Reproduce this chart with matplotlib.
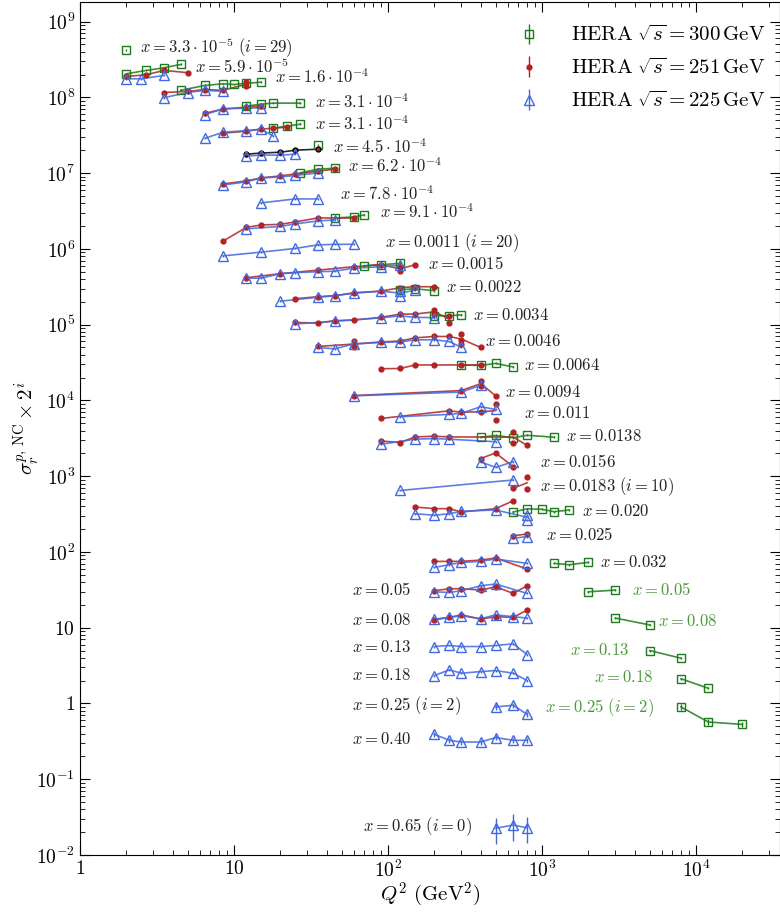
import math
import matplotlib
matplotlib.use('Agg')
import matplotlib.pyplot as plt
import pandas as pd
from matplotlib.ticker import FuncFormatter, LogLocator, NullFormatter

plt.rcParams['mathtext.fontset'] = 'cm'
plt.rcParams['font.family'] = 'serif'
plt.rcParams['font.serif'] = ['DejaVu Serif']

# reduced cross section x 2^i, keyed by bin index i
# sqrt(s) = 300 GeV
Q2_300 = {29: [2], 28: [2, 2.7, 3.5, 4.5], 27: [4.5, 6.5, 8.5, 10, 12, 15],
          26: [12, 15, 18, 27], 25: [18, 22, 27], 24: [35], 23: [27, 35, 45],
          21: [45, 60, 70], 19: [70, 90, 120], 18: [120, 150, 200],
          17: [200, 250, 300], 15: [300, 400, 500, 650],
          12: [400, 500, 650, 800, 1200], 9: [650, 800, 1000, 1200, 1500],
          7: [1200, 1500, 2000], 6: [2000, 3000], 5: [3000, 5000],
          4: [5000, 8000], 3: [8000, 12000], 2: [8000, 12000, 20000]}
SIG_300 = {29: [4.2e8], 28: [2.05e8, 2.27e8, 2.46e8, 2.72e8],
           27: [1.24e8, 1.44e8, 1.51e8, 1.48e8, 1.53e8, 1.59e8],
           26: [7.66e7, 8.14e7, 8.4e7, 8.4e7], 25: [3.92e7, 4.17e7, 4.43e7],
           24: [2.34e7], 23: [1.01e7, 1.13e7, 1.16e7], 21: [2.56e6, 2.64e6, 2.81e6],
           19: [6.0e5, 6.19e5, 6.44e5], 18: [2.89e5, 2.98e5, 2.81e5],
           17: [1.31e5, 1.31e5, 1.35e5], 15: [2.94e4, 2.9e4, 3.08e4, 2.77e4],
           12: [3.27e3, 3.45e3, 3.22e3, 3.47e3, 3.27e3], 9: [337, 371, 366, 340, 358],
           7: [70.7, 67.9, 72.9], 6: [29.8, 31.4], 5: [13.4, 10.9], 4: [5.0, 3.96],
           3: [2.12, 1.59], 2: [0.90, 0.57, 0.53]}

# sqrt(s) = 251 GeV
Q2_251 = {28: [2, 2.7, 3.5, 5], 27: [3.5, 5, 6.5, 8.5, 12, 12], 26: [6.5, 8.5, 12, 15],
          25: [8.5, 12, 15, 18, 22], 24: [12, 15, 20, 25, 35],
          23: [8.5, 12, 15, 20, 25, 35, 45], 21: [8.5, 12, 15, 20, 25, 35, 60],
          19: [12, 20, 35, 60, 90, 120, 120, 150], 18: [25, 35, 45, 60, 90, 120, 150, 200],
          17: [25, 35, 45, 60, 90, 120, 150, 200, 200, 250, 250],
          16: [35, 60, 60, 90, 120, 150, 200, 250, 300, 300, 300, 400],
          15: [90, 120, 150, 200, 300, 400], 14: [60, 300, 400, 400, 500],
          13: [90, 250, 300, 400, 500, 500], 12: [90, 120, 150, 200, 250, 650, 650, 800],
          11: [400, 500, 650], 10: [650, 800, 800], 9: [150, 200, 250, 300, 500, 650],
          8: [650, 800], 7: [200, 250, 300, 400, 500, 800],
          6: [200, 250, 300, 400, 500, 650, 800], 5: [200, 250, 300, 400, 500, 650, 800]}
SIG_251 = {28: [1.89e8, 1.99e8, 2.27e8, 2.12e8],
           27: [1.16e8, 1.20e8, 1.27e8, 1.24e8, 1.58e8, 1.40e8],
           26: [6.19e7, 7.0e7, 7.43e7, 7.66e7], 25: [3.37e7, 3.58e7, 3.81e7, 3.92e7, 4.05e7],
           24: [1.78e7, 1.84e7, 1.89e7, 2.01e7, 2.07e7],
           23: [7.2e6, 7.9e6, 8.65e6, 9.2e6, 9.75e6, 1.06e7, 1.13e7],
           21: [1.27e6, 1.92e6, 2.07e6, 2.11e6, 2.27e6, 2.56e6, 2.56e6],
           19: [4.17e5, 4.71e5, 5.24e5, 5.83e5, 6.19e5, 5.74e5, 5.16e5, 6.19e5],
           18: [2.2e5, 2.34e5, 2.41e5, 2.64e5, 2.77e5, 3.08e5, 3.17e5, 3.17e5],
           17: [1.07e5, 1.05e5, 1.13e5, 1.15e5, 1.25e5, 1.38e5, 1.38e5, 1.58e5, 1.38e5, 1.31e5, 1.06e5],
           16: [5.16e4, 5.0e4, 6.1e4, 5.92e4, 6.1e4, 6.7e4, 6.99e4, 6.99e4, 7.43e4, 6.31e4, 5.6e4, 5.0e4],
           15: [2.62e4, 2.64e4, 2.94e4, 2.94e4, 2.94e4, 2.94e4],
           14: [1.16e4, 1.35e4, 1.81e4, 1.53e4, 1.15e4],
           13: [5.78e3, 7.3e3, 6.99e3, 7.1e3, 9.1e3, 5.6e3],
           12: [2.92e3, 2.78e3, 3.3e3, 3.37e3, 3.3e3, 3.84e3, 2.72e3, 2.56e3],
           11: [1.71e3, 2.03e3, 1.33e3], 10: [693, 967, 669],
           9: [392, 373, 373, 337, 373, 474], 8: [163, 173],
           7: [75.1, 75.1, 75.1, 78.2, 83.3, 59.5],
           6: [30.8, 32.7, 32.7, 31.4, 34.7, 28.4, 35.8],
           5: [12.7, 13.7, 14.8, 13.0, 14.0, 13.7, 17.1]}

# sqrt(s) = 225 GeV
Q2_225 = {28: [2, 2.5, 3.5], 27: [3.5, 5, 6.5, 8.5], 26: [6.5, 8.5, 12, 15],
          25: [6.5, 8.5, 12, 15, 18], 24: [12, 15, 20, 25], 23: [8.5, 12, 15, 20, 25, 35],
          22: [15, 25, 35], 21: [12, 20, 25, 35, 45], 20: [8.5, 15, 25, 35, 45, 60],
          19: [12, 15, 20, 25, 35, 45, 60, 90, 120], 18: [20, 35, 45, 60, 90, 120, 120, 150],
          17: [25, 45, 90, 120, 150, 200], 16: [35, 45, 60, 90, 120, 150, 200, 250, 300],
          14: [60, 300, 400], 13: [120, 250, 300, 400, 500], 12: [90, 150, 200, 250, 500],
          11: [400, 500, 650], 10: [120, 650], 9: [150, 200, 250, 300, 500, 800, 800],
          8: [650, 800], 7: [200, 250, 300, 400, 500, 800], 6: [200, 250, 300, 400, 500, 800],
          5: [200, 250, 300, 400, 500, 650, 800], 4: [200, 250, 300, 400, 500, 650, 800],
          3: [200, 250, 300, 400, 500, 650, 800], 2: [500, 650, 800],
          1: [200, 250, 300, 400, 500, 650, 800], 0: [500, 650, 800]}
SIG_225 = {28: [1.76e8, 1.76e8, 1.95e8], 27: [0.99e8, 1.16e8, 1.24e8, 1.20e8],
           26: [5.92e7, 7.1e7, 7.2e7, 7.3e7], 25: [2.89e7, 3.47e7, 3.64e7, 3.81e7, 3.08e7],
           24: [1.68e7, 1.73e7, 1.73e7, 1.78e7],
           23: [6.99e6, 7.66e6, 8.65e6, 8.92e6, 9.33e6, 1.006e7],
           22: [4.05e6, 4.57e6, 4.57e6], 21: [1.84e6, 1.98e6, 2.14e6, 2.34e6, 2.41e6],
           20: [8.1e5, 9.06e5, 1.015e6, 1.13e6, 1.15e6, 1.15e6],
           19: [4.11e5, 4.11e5, 4.71e5, 4.86e5, 5.0e5, 5.08e5, 5.56e5, 5.83e5, 6.1e5],
           18: [2.04e5, 2.3e5, 2.41e5, 2.6e5, 2.77e5, 2.81e5, 2.41e5, 2.85e5],
           17: [1.02e5, 1.11e5, 1.23e5, 1.31e5, 1.25e5, 1.24e5],
           16: [5.0e4, 4.81e4, 5.56e4, 5.83e4, 5.92e4, 6.31e4, 6.31e4, 6.0e4, 5.0e4],
           14: [1.15e4, 1.29e4, 1.58e4], 13: [6.1e3, 6.54e3, 6.78e3, 8.27e3, 7.6e3],
           12: [2.64e3, 3.08e3, 3.14e3, 3.08e3, 2.85e3], 11: [1.54e3, 1.31e3, 1.55e3],
           10: [648, 892], 9: [320, 305, 320, 345, 358, 308, 267], 8: [151, 160],
           7: [62.5, 67.9, 72.9, 75.1, 80.8, 70.7], 6: [29.8, 29.2, 30.8, 35.8, 37.8, 28.4],
           5: [13.0, 13.7, 14.4, 13.1, 14.8, 14.0, 13.4],
           4: [5.65, 5.83, 5.65, 5.65, 5.83, 6.13, 4.43],
           3: [2.34, 2.78, 2.51, 2.64, 2.72, 2.51, 2.01], 2: [0.90, 0.948, 0.72],
           1: [0.392, 0.327, 0.31, 0.31, 0.355, 0.327, 0.327], 0: [0.0225, 0.0249, 0.0229]}

# relative uncertainties (default is small)
REL_ERR = {0: 0.38, 1: 0.08, 2: 0.08}

# bin labels: text, Q2, sigma, colour
LBL_TEXT = [r'3.3\cdot10^{-5}\ (i=29)', r'5.9\cdot10^{-5}', r'1.6\cdot10^{-4}',
            r'3.1\cdot10^{-4}', r'3.1\cdot10^{-4}', r'4.5\cdot10^{-4}', r'6.2\cdot10^{-4}',
            r'7.8\cdot10^{-4}', r'9.1\cdot10^{-4}', r'0.0011\ (i=20)', '0.0015', '0.0022',
            '0.0034', '0.0046', '0.0064', '0.0094', '0.011', '0.0138', '0.0156',
            r'0.0183\ (i=10)', '0.020', '0.025', '0.032',
            '0.05', '0.08', '0.13', '0.18', r'0.25\ (i=2)', '0.40', r'0.65\ (i=0)',
            '0.05', '0.08', '0.13', '0.18', r'0.25\ (i=2)']
LBL_Q2 = [2.45, 5.58, 18.5, 33.6, 33.6, 43.9, 55.0, 48.8, 88.7, 95.6, 182, 238, 356, 426,
          764, 575, 764, 1432, 971, 971, 1820, 1062, 2380,
          58.4, 58.4, 58.4, 58.4, 58.4, 58.4, 68.8,
          3840, 5665, 1520, 2176, 1046]
LBL_SIG = [4.54e8, 2.47e8, 1.82e8, 8.53e7, 4.38e7, 2.18e7, 1.22e7, 5.22e6, 3.02e6, 1.21e6,
           6.22e5, 3.10e5, 1.32e5, 6.0e4, 2.90e4, 1.28e4, 6.74e3, 3.35e3, 1.52e3, 733,
           344, 166, 73.0,
           31.1, 12.5, 5.51, 2.36, 0.946, 0.337, 0.024,
           31.1, 12.2, 5.04, 2.22, 0.891]
LBL_GREEN = [False] * 30 + [True] * 5

C300 = '#1c7a1c'
C251 = '#b22222'
C225 = '#4169e1'

fig = plt.figure(figsize=(7.8, 9.13), dpi=100)
ax = fig.add_axes([0.1026, 0.0635, 0.8971, 0.934])


def draw_set(q2d, sigd, color, marker, ms, mfc, label, black_bins=()):
    first = True
    for i in q2d:
        c = 'k' if i in black_bins else color
        df = pd.DataFrame({'q2': q2d[i], 'sig': sigd[i]})
        err = df['sig'] * REL_ERR.get(i, 0.03)
        ax.errorbar(df['q2'], df['sig'], yerr=err, fmt=marker, ms=ms, mfc=mfc,
                    mec=c, ecolor=c, mew=1.0, elinewidth=1.0, color=c, zorder=3,
                    label=label if first else None)
        first = False
        line = df.groupby('q2')['sig'].mean()
        if len(line) > 1:
            ax.plot(line.index, line.values, '-', color=c, lw=1.2, alpha=0.85, zorder=2)


draw_set(Q2_300, SIG_300, C300, 's', 6, 'none', r'$\mathrm{HERA}\ \sqrt{s} = 300\,\mathrm{GeV}$')
draw_set(Q2_251, SIG_251, C251, 'o', 3.5, C251, r'$\mathrm{HERA}\ \sqrt{s} = 251\,\mathrm{GeV}$',
         black_bins=(24,))
draw_set(Q2_225, SIG_225, C225, '^', 7, 'none', r'$\mathrm{HERA}\ \sqrt{s} = 225\,\mathrm{GeV}$')

for txt, q, s, g in zip(LBL_TEXT, LBL_Q2, LBL_SIG, LBL_GREEN):
    ax.text(q, s, r'$x = ' + txt + '$', fontsize=12, ha='left', va='center',
            color='#4a9a3a' if g else '#222222')

ax.set_xscale('log')
ax.set_yscale('log')
ax.set_xlim(1, 3.5e4)
ax.set_ylim(1e-2, 1.8e9)


def pow_fmt(v, pos):
    e = int(round(math.log10(v)))
    if e == 0:
        return r'$1$'
    if e == 1:
        return r'$10$'
    return r'$10^{%d}$' % e


ax.xaxis.set_major_formatter(FuncFormatter(pow_fmt))
ax.yaxis.set_major_formatter(FuncFormatter(pow_fmt))
ax.yaxis.set_major_locator(LogLocator(base=10, numticks=20))
ax.yaxis.set_minor_locator(LogLocator(base=10, subs=range(2, 10), numticks=20))
ax.yaxis.set_minor_formatter(NullFormatter())
ax.xaxis.set_minor_formatter(NullFormatter())
ax.tick_params(which='both', direction='in', top=True, right=True, labelsize=14)
ax.tick_params(which='major', length=7)
ax.tick_params(which='minor', length=3.5)

ax.set_xlabel(r'$Q^2\ (\mathrm{GeV}^2)$', fontsize=15, labelpad=0)
ax.set_ylabel(r'$\sigma_r^{p,\,\mathrm{NC}} \times 2^i$', fontsize=15, labelpad=-4)

ax.legend(loc='upper right', bbox_to_anchor=(1.0, 0.9905), frameon=False, fontsize=15,
          handletextpad=1.0, labelspacing=0.6, borderaxespad=0.3)

fig.savefig('out.png', dpi=100)
